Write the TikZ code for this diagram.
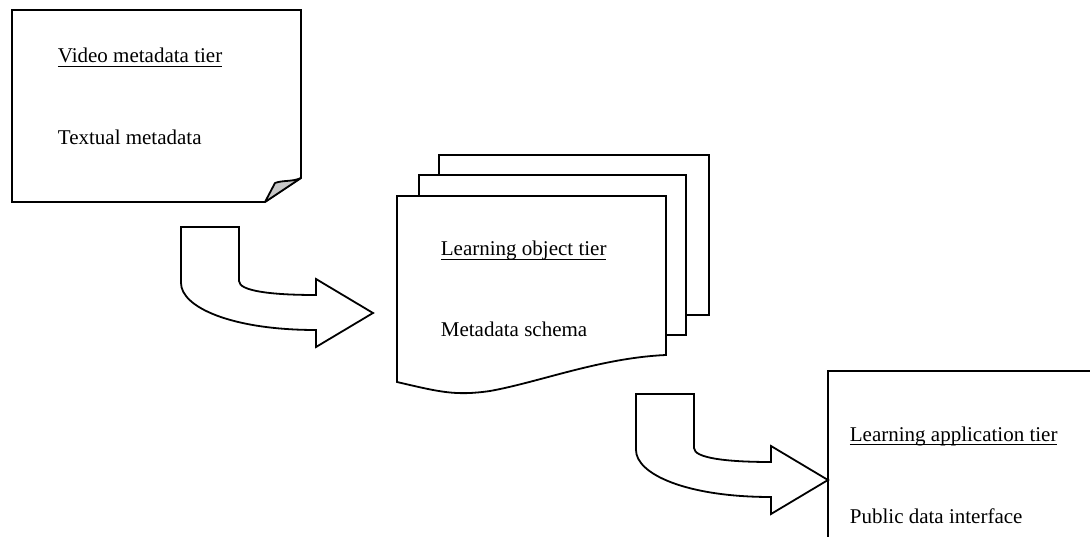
\documentclass[tikz,border=0pt]{standalone}
\usepackage{fontspec}
\setmainfont{Liberation Serif}
\newcommand{\tierul}[1]{\setbox0\hbox{#1}\rlap{\rule[-4pt]{\wd0}{1.2pt}}\box0}

\begin{document}
\begin{tikzpicture}[x=1pt,y=-1pt,line width=1.8pt,
    tiertext/.style={anchor=base west,inner sep=0pt,font=\fontsize{21}{25}\selectfont},
    sheet/.style={draw=black,fill=white},
    blockarrow/.style={draw=black,fill=white}]
  \useasboundingbox (0,0) rectangle (1090,537);
  \clip (0,0) rectangle (1090,537);

  % video metadata tier (folded corner)
  \draw[sheet] (12,10) -- (301,10) -- (301,178) -- (265,202) -- (12,202) -- cycle;
  \filldraw[fill=black!22,line join=round] (265,202) -- (275,183) .. controls (283,180) and (292,182) .. (301,178) -- cycle;

  % learning object tier (stack of sheets)
  \draw[sheet] (439,155) rectangle (709,315);
  \draw[sheet] (419,175) rectangle (686,335);
  \draw[sheet] (397,196) -- (666,196) -- (666,355)
    .. controls (600,358) and (540,382) .. (490,391)
    .. controls (455,396) and (440,392) .. (397,382) -- cycle;

  % learning application tier
  \draw[sheet] (828,371) rectangle (1110,560);

  % bent arrows
  \foreach \ax/\ay in {181/227, 636/394} {
    \draw[blockarrow,shift={(\ax,\ay)}] (0,0) -- (58,0) -- (58,54)
      .. controls (58,64) and (90,68) .. (135,68) -- (135,52) -- (192,86)
      -- (135,120) -- (135,103) .. controls (50,103) and (0,80) .. (0,56) -- cycle;
  }

  \node[tiertext] (vmt) at (57,63) {\tierul{Video metadata tier}};
  \node[tiertext] (tmd) at (57,145) {Textual metadata};
  \node[tiertext] (lot) at (440,256) {\tierul{Learning object tier}};
  \node[tiertext] (mds) at (440,337) {Metadata schema};
  \node[tiertext] (lat) at (849,441) {\tierul{Learning application tier}};
  \node[tiertext] (pdi) at (849,523) {Public data interface};
\end{tikzpicture}
\end{document}
